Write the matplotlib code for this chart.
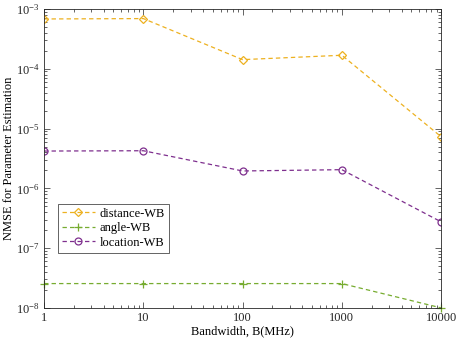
import numpy as np
import matplotlib
matplotlib.use("Agg")
import matplotlib.pyplot as plt
from matplotlib.ticker import LogLocator, NullFormatter, FixedLocator, FixedFormatter

# --------- data ---------
bandwidth = [1, 10, 100, 1000, 10000]
bw_labels = ["1", "10", "100", "1000", "10000"]
distance_wb = [6.8e-4, 6.9e-4, 1.42e-4, 1.68e-4, 7.3e-6]
angle_wb = [2.55e-8, 2.55e-8, 2.55e-8, 2.55e-8, 1.0e-8]
location_wb = [4.2e-6, 4.25e-6, 1.95e-6, 2.05e-6, 2.75e-7]

# --------- style ---------
plt.rcParams["font.family"] = ["Liberation Serif", "DejaVu Serif"]
plt.rcParams["mathtext.fontset"] = "stix"
FS = 9

fig = plt.figure(figsize=(4.59, 3.44), dpi=100)
ax = fig.add_axes([0.096, 0.105, 0.865, 0.869])

ax.plot(bandwidth, distance_wb, "--", color="#EDB120", marker="D", ms=4.5,
        mfc="none", mew=0.9, lw=0.9, dashes=(3.5, 2.5), label="distance-WB")
ax.plot(bandwidth, angle_wb, "--", color="#77AC30", marker="+", ms=6,
        mew=0.9, lw=0.9, dashes=(3.5, 2.5), label="angle-WB", clip_on=False)
ax.plot(bandwidth, location_wb, "--", color="#7E2F8E", marker="o", ms=5,
        mfc="none", mew=0.9, lw=0.9, dashes=(3.5, 2.5), label="location-WB")

ax.set_xscale("log")
ax.set_yscale("log")
ax.set_xlim(1, 10000)
ax.set_ylim(1e-8, 1e-3)

ax.xaxis.set_major_locator(FixedLocator(bandwidth))
ax.xaxis.set_major_formatter(FixedFormatter(bw_labels))
ax.xaxis.set_minor_locator(LogLocator(base=10, subs=np.arange(2, 10), numticks=20))
ax.xaxis.set_minor_formatter(NullFormatter())
ax.yaxis.set_major_locator(LogLocator(base=10, numticks=10))
ax.yaxis.set_minor_locator(LogLocator(base=10, subs=np.arange(2, 10), numticks=20))
ax.yaxis.set_minor_formatter(NullFormatter())

for s in ax.spines.values():
    s.set_color("#262626")
    s.set_linewidth(0.6)
ax.tick_params(which="both", direction="in", top=True, right=True,
               colors="#262626", width=0.5, labelsize=FS, pad=3)
ax.tick_params(which="major", length=4)
ax.tick_params(which="minor", length=2)

ax.set_xlabel("Bandwidth, B(MHz)", fontsize=FS, labelpad=1)
ax.set_ylabel("NMSE for Parameter Estimation", fontsize=FS, labelpad=1)

leg = ax.legend(loc="lower left", bbox_to_anchor=(0.036, 0.185), fancybox=False,
                framealpha=1, edgecolor="#262626", fontsize=FS,
                handlelength=2.6, borderpad=0.3, labelspacing=0.2,
                handletextpad=0.4, borderaxespad=0)
leg.get_frame().set_linewidth(0.5)

fig.savefig("out.png", dpi=100)
